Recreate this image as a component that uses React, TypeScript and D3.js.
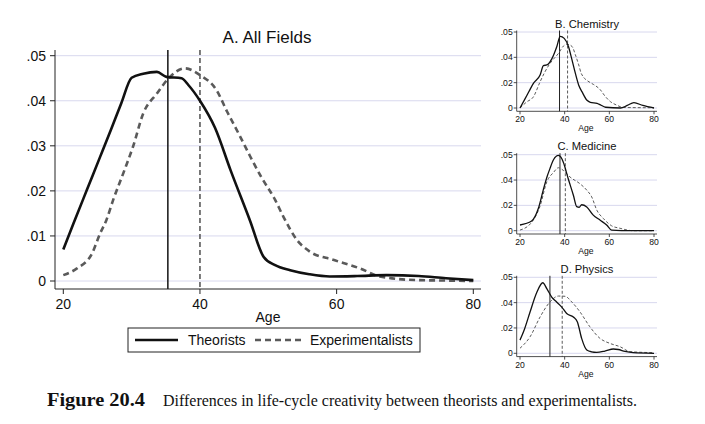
import React from "react";
import * as d3 from "d3";

// ---------- Data ----------
const mainTicksX = [20, 40, 60, 80];
const mainTicksY = [0, 0.01, 0.02, 0.03, 0.04, 0.05];
const mainTickLabelsY = ["0", ".01", ".02", ".03", ".04", ".05"];

const mainTheoAge = [20, 21.5, 23.5, 25.4, 27, 28.5, 30, 31.7, 33.7, 35.1, 37.3, 38.3, 40, 42.2, 44.5, 47.3, 49.3, 51, 53.2, 56, 59, 63, 67.3, 72, 76, 80];
const mainTheoVal = [0.007, 0.0128, 0.0204, 0.0276, 0.0337, 0.0395, 0.0451, 0.046, 0.0464, 0.0453, 0.045, 0.0435, 0.04, 0.034, 0.0245, 0.0135, 0.0054, 0.0035, 0.0024, 0.0015, 0.001, 0.0011, 0.0013, 0.0011, 0.0006, 0.0002];

const mainExpAge = [20, 22, 24.2, 25.4, 26.3, 27.3, 28.8, 30.2, 31.7, 33.7, 35.6, 37.8, 40, 42.4, 44, 45.9, 47.3, 49, 51, 52.2, 54.2, 56.1, 59.5, 63.4, 66.3, 71.7, 76, 80];
const mainExpVal = [0.0013, 0.0028, 0.0061, 0.0106, 0.0135, 0.018, 0.024, 0.0298, 0.0372, 0.0416, 0.0453, 0.0472, 0.0457, 0.0424, 0.0375, 0.032, 0.0278, 0.023, 0.018, 0.0143, 0.0091, 0.0065, 0.0047, 0.0028, 0.001, 0.0002, 0.0001, 0];

const mainTheoMedian = 35.3;
const mainExpMedian = 40;

const smallTicksX = [20, 40, 60, 80];
const smallTicksY = [0, 0.02, 0.04, 0.06];
const smallTickLabelsY = ["0", ".02", ".04", ".05"];

const chemTheoAge = [20, 22.3, 24, 26, 29, 30.5, 32, 34.3, 36.5, 38, 39.8, 41.7, 43, 44.8, 46.3, 47.8, 50, 51.5, 54.5, 56, 58.3, 65, 68, 71, 75, 80];
const chemTheoVal = [0, 0.0074, 0.013, 0.0194, 0.026, 0.0335, 0.034, 0.039, 0.0486, 0.0566, 0.055, 0.0486, 0.04, 0.0273, 0.018, 0.0127, 0.0061, 0.0045, 0.0037, 0.0025, 0.0006, 0, 0.002, 0.0042, 0.002, 0];
const chemExpAge = [20, 23, 26, 29, 31, 33.5, 37.3, 39.5, 41, 43.3, 44.8, 46.3, 47.5, 51.5, 53, 56, 58, 60.5, 63, 66.5, 80];
const chemExpVal = [0, 0.0048, 0.0088, 0.0207, 0.028, 0.0353, 0.0433, 0.049, 0.0504, 0.0486, 0.042, 0.034, 0.027, 0.02, 0.0185, 0.0143, 0.0095, 0.005, 0.0025, 0.0004, 0.0002];
const chemTheoMedian = 37.7;
const chemExpMedian = 41.3;

const medTheoAge = [20, 25.2, 28.2, 30.4, 32, 33.4, 35, 37.2, 38.3, 39.4, 41.6, 43.9, 45.4, 46.5, 47.6, 49.9, 52.8, 55.8, 58.8, 61, 70, 80];
const medTheoVal = [0.0045, 0.0076, 0.0175, 0.032, 0.042, 0.049, 0.056, 0.0594, 0.058, 0.054, 0.041, 0.028, 0.019, 0.0185, 0.0205, 0.0188, 0.0123, 0.0084, 0.0045, 0.0005, 0, 0];
const medExpAge = [20, 25.2, 28.9, 32, 35, 37.2, 39.4, 42.4, 46.9, 49.9, 52.1, 54.4, 57.3, 61, 64.8, 70.7, 80];
const medExpVal = [0.0005, 0.0066, 0.019, 0.0385, 0.046, 0.0497, 0.0476, 0.0424, 0.037, 0.032, 0.0267, 0.0162, 0.0097, 0.0039, 0.0019, 0, 0];
const medTheoMedian = 37.9;
const medExpMedian = 40.3;

const physTheoAge = [20, 22, 24.5, 27.5, 30.2, 32, 34.2, 36.4, 38.7, 40.9, 43.9, 45.7, 47.6, 49.9, 52, 54.3, 58, 61.8, 64, 67, 70.7, 80];
const physTheoVal = [0.0104, 0.019, 0.0326, 0.048, 0.0557, 0.051, 0.0444, 0.0405, 0.0365, 0.0314, 0.0287, 0.0248, 0.0118, 0.0026, 0.0012, 0.0008, 0.0018, 0.0034, 0.003, 0.0015, 0.0005, 0];
const physExpAge = [20, 24.5, 29, 33.4, 37.2, 40.2, 43.2, 46.9, 51.3, 55.8, 60.3, 64.8, 69.3, 80];
const physExpVal = [0.004, 0.013, 0.0287, 0.0405, 0.0452, 0.045, 0.0405, 0.0326, 0.0209, 0.0118, 0.0078, 0.0052, 0.0013, 0.0005];
const physTheoMedian = 33.4;
const physExpMedian = 38.9;

const legendLabels = ["Theorists", "Experimentalists"];
const captionBold = "Figure 20.4";
const captionText = "Differences in life-cycle creativity between theorists and experimentalists.";

// ---------- Styles ----------
const FONT = "'Liberation Sans', Arial, Helvetica, sans-serif";
const SERIF = "'Liberation Serif', 'Times New Roman', serif";
const GRID = "#d8d8ee";
const AXIS = "#222";
const EXP_COLOR = "#5a5a5a";

function zip(a: number[], b: number[]): [number, number][] {
  return a.map((x, i) => [x, b[i]]);
}

function MainPanel() {
  const x = d3.scaleLinear().domain([20, 80]).range([63.3, 473.3]);
  const y = d3.scaleLinear().domain([0, 0.05]).range([281, 55.7]);
  const line = d3
    .line<[number, number]>()
    .x((d) => x(d[0]))
    .y((d) => y(d[1]))
    .curve(d3.curveMonotoneX);
  const axisX0 = 55;
  const axisX1 = 481;
  const axisY = 289;
  const axisTop = 50;
  return (
    <g>
      <text x={267} y={43} fontSize={17} textAnchor="middle" fill="#111" fontFamily={FONT}>
        A. All Fields
      </text>
      {mainTicksY.map((t, i) => (
        <g key={"gy" + i}>
          <line x1={axisX0} x2={axisX1} y1={y(t)} y2={y(t)} stroke={GRID} strokeWidth={1} />
          <line x1={axisX0 - 5} x2={axisX0} y1={y(t)} y2={y(t)} stroke={AXIS} strokeWidth={1} />
          <text x={axisX0 - 9} y={y(t) + 5} fontSize={14} textAnchor="end" fill="#111" fontFamily={FONT}>
            {mainTickLabelsY[i]}
          </text>
        </g>
      ))}
      <line x1={x(mainTheoMedian)} x2={x(mainTheoMedian)} y1={axisTop} y2={axisY} stroke="#222" strokeWidth={1.6} />
      <line x1={x(mainExpMedian)} x2={x(mainExpMedian)} y1={axisTop} y2={axisY} stroke={EXP_COLOR} strokeWidth={1.6} strokeDasharray="5,3" />
      <path d={line(zip(mainExpAge, mainExpVal)) || ""} fill="none" stroke={EXP_COLOR} strokeWidth={2.6} strokeDasharray="6,4" />
      <path d={line(zip(mainTheoAge, mainTheoVal)) || ""} fill="none" stroke="#111" strokeWidth={2.6} />
      <line x1={axisX0} x2={axisX0} y1={axisTop} y2={axisY} stroke={AXIS} strokeWidth={1} />
      <line x1={axisX0} x2={axisX1} y1={axisY} y2={axisY} stroke={AXIS} strokeWidth={1} />
      {mainTicksX.map((t, i) => (
        <g key={"gx" + i}>
          <line x1={x(t)} x2={x(t)} y1={axisY} y2={axisY + 5} stroke={AXIS} strokeWidth={1} />
          <text x={x(t)} y={309} fontSize={14} textAnchor="middle" fill="#111" fontFamily={FONT}>
            {t}
          </text>
        </g>
      ))}
      <text x={268} y={322} fontSize={14} textAnchor="middle" fill="#111" fontFamily={FONT}>
        Age
      </text>
      <rect x={128} y={328} width={292} height={24} fill="white" stroke="#222" strokeWidth={1} />
      <line x1={135} x2={178} y1={340} y2={340} stroke="#111" strokeWidth={2.6} />
      <text x={188} y={345} fontSize={14} fill="#111" fontFamily={FONT}>
        {legendLabels[0]}
      </text>
      <line x1={255} x2={302} y1={340} y2={340} stroke={EXP_COLOR} strokeWidth={2.6} strokeDasharray="6,4" />
      <text x={310} y={345} fontSize={14} fill="#111" fontFamily={FONT}>
        {legendLabels[1]}
      </text>
    </g>
  );
}

type SmallProps = {
  title: string;
  top: number; // y of 0-gridline
  theoAge: number[];
  theoVal: number[];
  expAge: number[];
  expVal: number[];
  theoMed: number;
  expMed: number;
};

function SmallPanel(p: SmallProps) {
  const x = d3.scaleLinear().domain([20, 80]).range([520, 654]);
  const y = d3.scaleLinear().domain([0, 0.06]).range([p.top, p.top - 76]);
  const line = d3
    .line<[number, number]>()
    .x((d) => x(d[0]))
    .y((d) => y(d[1]))
    .curve(d3.curveMonotoneX);
  const axisX0 = 516.7;
  const axisX1 = 657;
  const axisY = p.top + 3.3;
  const axisTop = p.top - 77.5;
  return (
    <g>
      <text x={587} y={p.top - 80.5} fontSize={11.2} textAnchor="middle" fill="#111" fontFamily={FONT}>
        {p.title}
      </text>
      {smallTicksY.map((t, i) => (
        <g key={"sy" + i}>
          <line x1={axisX0} x2={axisX1} y1={y(t)} y2={y(t)} stroke={GRID} strokeWidth={1} />
          <line x1={axisX0 - 3} x2={axisX0} y1={y(t)} y2={y(t)} stroke={AXIS} strokeWidth={0.8} />
          <text x={axisX0 - 4} y={y(t) + 3} fontSize={8.6} textAnchor="end" fill="#111" fontFamily={FONT}>
            {smallTickLabelsY[i]}
          </text>
        </g>
      ))}
      <line x1={x(p.theoMed)} x2={x(p.theoMed)} y1={axisTop} y2={axisY} stroke="#222" strokeWidth={1} />
      <line x1={x(p.expMed)} x2={x(p.expMed)} y1={axisTop} y2={axisY} stroke={EXP_COLOR} strokeWidth={1} strokeDasharray="3,2" />
      <path d={line(zip(p.expAge, p.expVal)) || ""} fill="none" stroke={EXP_COLOR} strokeWidth={1} strokeDasharray="3,2" />
      <path d={line(zip(p.theoAge, p.theoVal)) || ""} fill="none" stroke="#111" strokeWidth={1.3} />
      <line x1={axisX0} x2={axisX0} y1={axisTop} y2={axisY} stroke={AXIS} strokeWidth={0.8} />
      <line x1={axisX0} x2={axisX1} y1={axisY} y2={axisY} stroke={AXIS} strokeWidth={0.8} />
      {smallTicksX.map((t, i) => (
        <g key={"sx" + i}>
          <line x1={x(t)} x2={x(t)} y1={axisY} y2={axisY + 3} stroke={AXIS} strokeWidth={0.8} />
          <text x={x(t)} y={axisY + 11} fontSize={8.6} textAnchor="middle" fill="#111" fontFamily={FONT}>
            {t}
          </text>
        </g>
      ))}
      <text x={586} y={axisY + 20} fontSize={8.6} textAnchor="middle" fill="#111" fontFamily={FONT}>
        Age
      </text>
    </g>
  );
}

export default function App() {
  return (
    <div style={{ position: "absolute", left: 0, top: 0, width: 705, height: 424, background: "white" }}>
      <svg width={705} height={424} style={{ display: "block" }}>
        <rect x={0} y={0} width={705} height={424} fill="white" />
        <MainPanel />
        <SmallPanel title="B. Chemistry" top={108} theoAge={chemTheoAge} theoVal={chemTheoVal} expAge={chemExpAge} expVal={chemExpVal} theoMed={chemTheoMedian} expMed={chemExpMedian} />
        <SmallPanel title="C. Medicine" top={230.7} theoAge={medTheoAge} theoVal={medTheoVal} expAge={medExpAge} expVal={medExpVal} theoMed={medTheoMedian} expMed={medExpMedian} />
        <SmallPanel title="D. Physics" top={353.3} theoAge={physTheoAge} theoVal={physTheoVal} expAge={physExpAge} expVal={physExpVal} theoMed={physTheoMedian} expMed={physExpMedian} />
        <text x={47} y={406} fontSize={18} fill="#111" fontFamily={SERIF} fontWeight="bold" textLength={98} lengthAdjust="spacingAndGlyphs">
          {captionBold}
        </text>
        <text x={163} y={406} fontSize={16.5} fill="#111" fontFamily={SERIF} textLength={474} lengthAdjust="spacingAndGlyphs">
          {captionText}
        </text>
      </svg>
    </div>
  );
}
